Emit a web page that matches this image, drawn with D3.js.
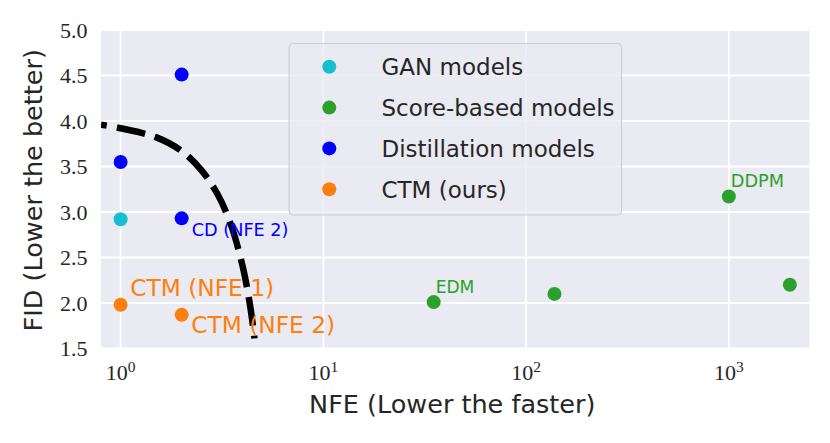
<!DOCTYPE html>
<html>
<head>
<meta charset="utf-8">
<script src="https://cdn.jsdelivr.net/npm/d3@7"></script>
<style>
	body { margin: 0; background: #fff; }
	svg { display: block; }
</style>
</head>
<body>
<svg id="chart"></svg>
<script>
// data
var ganNfe = [1],
	ganFid = [2.92];
var scoreNfe = [35, 138, 1000, 2000],
	scoreFid = [2.01, 2.10, 3.17, 2.20];
var distNfe = [1, 2, 2],
	distFid = [3.55, 4.51, 2.93];
var ctmNfe = [1, 2],
	ctmFid = [1.98, 1.87];

// dashed frontier, points
var frontierNfe = [0.8, 1.0, 1.5, 2.0, 2.5, 3.0, 3.5, 4.0, 4.3, 4.5, 4.57],
	frontierFid = [3.96, 3.92, 3.82, 3.67, 3.46, 3.20, 2.86, 2.40, 2.04, 1.74, 1.61];

var legendLabels = ['GAN models', 'Score-based models', 'Distillation models', 'CTM (ours)'];
var yTicks = [1.5, 2.0, 2.5, 3.0, 3.5, 4.0, 4.5, 5.0];
var xTickExps = [0, 1, 2, 3];

// annotations: text, nfe, fid
var notes = [
	{ text: 'CD (NFE 2)', nfe: 2, fid: 2.93, group: 2 },
	{ text: 'CTM (NFE 1)', nfe: 1, fid: 1.98, group: 3 },
	{ text: 'CTM (NFE 2)', nfe: 2, fid: 1.87, group: 3 },
	{ text: 'EDM', nfe: 35, fid: 2.01, group: 1 },
	{ text: 'DDPM', nfe: 1000, fid: 3.17, group: 1 }
];

// layout
var width = 830,
	height = 443,
	pLeft = 101,
	pRight = 809.5,
	pTop = 30,
	pBottom = 348.5,
	colors = ['#17becf', '#2ca02c', '#0000ff', '#ff7f0e'],
	noteStyle = [
		{ dx: 10, dy: 18, size: 17.7 },
		{ dx: 9.5, dy: -9, size: 23.3 },
		{ dx: 9.5, dy: 18.5, size: 23.3 },
		{ dx: 2, dy: -9.5, size: 17.1 },
		{ dx: 2, dy: -10, size: 17.7 }
	],
	sans = '"DejaVu Sans", sans-serif',
	serif = '"Liberation Serif", serif',
	textColor = '#262626';

var svg = d3.select('#chart')
	.attr('width', width)
	.attr('height', height);

var x = d3.scaleLog().domain([0.8, 2500]).range([pLeft, pRight]);
var y = d3.scaleLinear().domain([1.5, 5]).range([pBottom, pTop]);

svg.append('rect')
	.attr('x', pLeft).attr('y', pTop)
	.attr('width', pRight - pLeft).attr('height', pBottom - pTop)
	.attr('fill', '#eaeaf2');

svg.append('clipPath').attr('id', 'plot-clip')
	.append('rect')
	.attr('x', pLeft).attr('y', pTop)
	.attr('width', pRight - pLeft).attr('height', pBottom - pTop);

// grid
svg.append('g').selectAll('line')
	.data(yTicks)
	.enter().append('line')
		.attr('x1', pLeft).attr('x2', pRight)
		.attr('y1', function(d) { return y(d); })
		.attr('y2', function(d) { return y(d); })
		.attr('stroke', '#fff')
		.attr('stroke-width', 1.8);

svg.append('g').selectAll('line')
	.data(xTickExps)
	.enter().append('line')
		.attr('y1', pTop).attr('y2', pBottom)
		.attr('x1', function(d) { return x(Math.pow(10, d)); })
		.attr('x2', function(d) { return x(Math.pow(10, d)); })
		.attr('stroke', '#fff')
		.attr('stroke-width', 1.8);

// y tick labels
svg.append('g').selectAll('text')
	.data(yTicks)
	.enter().append('text')
		.attr('x', pLeft - 13.5)
		.attr('y', function(d) { return y(d) + 7.5; })
		.attr('text-anchor', 'end')
		.attr('font-family', serif)
		.attr('font-size', 22)
		.attr('fill', textColor)
		.text(function(d) { return d.toFixed(1); });

// x tick labels, 10^n
var xt = svg.append('g').selectAll('text')
	.data(xTickExps)
	.enter().append('text')
		.attr('x', function(d) { return x(Math.pow(10, d)); })
		.attr('y', 379.5)
		.attr('text-anchor', 'middle')
		.attr('font-family', serif)
		.attr('font-size', 22)
		.attr('fill', textColor);
xt.append('tspan').text('10');
xt.append('tspan')
	.attr('dy', -8)
	.attr('font-size', 15.5)
	.text(function(d) { return d; });

// axis titles
svg.append('text')
	.attr('x', (pLeft + pRight) / 2 - 3)
	.attr('y', 413)
	.attr('text-anchor', 'middle')
	.attr('font-family', sans)
	.attr('font-size', 25.5)
	.attr('fill', textColor)
	.text('NFE (Lower the faster)');

svg.append('text')
	.attr('transform', 'translate(42,' + ((pTop + pBottom) / 2 + 1) + ') rotate(-90)')
	.attr('text-anchor', 'middle')
	.attr('font-family', sans)
	.attr('font-size', 25.5)
	.attr('fill', textColor)
	.text('FID (Lower the better)');

// points
var groups = [
	{ nfe: ganNfe, fid: ganFid },
	{ nfe: scoreNfe, fid: scoreFid },
	{ nfe: distNfe, fid: distFid },
	{ nfe: ctmNfe, fid: ctmFid }
];
var pointsData = [];
groups.forEach(function(g, gi) {
	g.nfe.forEach(function(n, i) {
		pointsData.push({ nfe: n, fid: g.fid[i], group: gi });
	});
});

var plot = svg.append('g').attr('clip-path', 'url(#plot-clip)');

plot.selectAll('.point')
	.data(pointsData)
	.enter().append('circle')
		.attr('class', 'point')
		.attr('r', 7)
		.attr('cx', function(d) { return x(d.nfe); })
		.attr('cy', function(d) { return y(d.fid); })
		.attr('fill', function(d) { return colors[d.group]; });

// annotations
svg.append('g').selectAll('text')
	.data(notes)
	.enter().append('text')
		.attr('x', function(d, i) { return x(d.nfe) + noteStyle[i].dx; })
		.attr('y', function(d, i) { return y(d.fid) + noteStyle[i].dy; })
		.attr('font-family', sans)
		.attr('font-size', function(d, i) { return noteStyle[i].size; })
		.attr('fill', function(d) { return colors[d.group]; })
		.text(function(d) { return d.text; });

// frontier
var frontier = frontierNfe.map(function(n, i) { return [n, frontierFid[i]]; });
plot.append('path')
	.datum(frontier)
	.attr('d', d3.line()
		.x(function(d) { return x(d[0]); })
		.y(function(d) { return y(d[1]); })
		.curve(d3.curveCatmullRom))
	.attr('fill', 'none')
	.attr('stroke', '#000')
	.attr('stroke-width', 6.5)
	.attr('stroke-dasharray', '29,10')
	.attr('stroke-dashoffset', 23);

// legend
var legend = svg.append('g');
legend.append('rect')
	.attr('x', 289).attr('y', 43.5)
	.attr('width', 332.5).attr('height', 171.5)
	.attr('rx', 4)
	.attr('fill', '#eaeaf2')
	.attr('fill-opacity', 0.8)
	.attr('stroke', '#cccccc')
	.attr('stroke-width', 1);

var rows = legend.selectAll('.row')
	.data(legendLabels)
	.enter().append('g')
		.attr('class', 'row')
		.attr('transform', function(d, i) { return 'translate(0,' + (66.8 + i * 40.8) + ')'; });
rows.append('circle')
	.attr('cx', 329.3)
	.attr('r', 7)
	.attr('fill', function(d, i) { return colors[i]; });
rows.append('text')
	.attr('x', 381.5)
	.attr('y', 8.5)
	.attr('font-family', sans)
	.attr('font-size', 23)
	.attr('fill', textColor)
	.text(function(d) { return d; });
</script>
</body>
</html>
